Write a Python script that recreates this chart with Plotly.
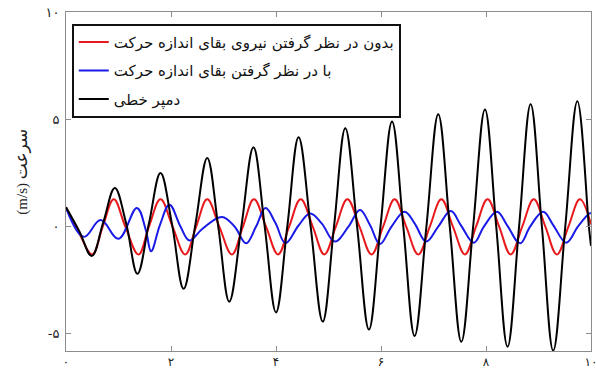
import plotly.graph_objects as go

# ---- data (time in s, velocity in m/s) ----
red_t = [0.00, 0.25, 0.50, 0.70, 0.91, 1.13, 1.38, 1.58, 1.80, 2.03, 2.27, 2.48, 2.69, 2.92,
         3.16, 3.37, 3.58, 3.81, 4.04, 4.25, 4.47, 4.70, 4.92, 5.14, 5.36, 5.59, 5.82, 6.04,
         6.26, 6.48, 6.71, 6.93, 7.15, 7.37, 7.60, 7.81, 8.03, 8.25, 8.47, 8.69, 8.91, 9.13,
         9.35, 9.57, 9.79, 10.00]
red_v = [0.90, -0.30, -1.30, 0.00, 1.27, 0.00, -1.30, 0.00, 1.27, 0.00, -1.30, 0.00, 1.27, 0.00,
         -1.30, 0.00, 1.27, 0.00, -1.30, 0.00, 1.27, 0.00, -1.30, 0.00, 1.27, 0.00, -1.30, 0.00,
         1.27, 0.00, -1.30, 0.00, 1.27, 0.00, -1.30, 0.00, 1.27, 0.00, -1.30, 0.00, 1.27, 0.00,
         -1.30, 0.00, 1.27, 0.10]

blue_t = [0.00, 0.34, 0.66, 1.00, 1.35, 1.52, 1.62, 1.79, 1.97, 2.18, 2.35, 2.60, 2.97, 3.21,
          3.43, 3.62, 3.80, 3.99, 4.18, 4.43, 4.65, 4.87, 5.12, 5.38, 5.60, 5.79, 5.98, 6.20,
          6.45, 6.64, 6.86, 7.09, 7.33, 7.52, 7.77, 7.96, 8.21, 8.40, 8.65, 8.84, 9.09, 9.28,
          9.53, 9.75, 9.97, 10.00]
blue_v = [0.88, -0.48, 0.30, -0.57, 0.87, -0.16, -1.15, 0.08, 1.02, 0.00, -0.65, -0.10, 0.45, 0.00,
          -0.78, 0.00, 0.86, 0.16, -0.77, 0.05, 0.61, 0.15, -0.70, 0.00, 0.77, 0.07, -0.81, 0.00,
          0.69, 0.15, -0.70, 0.00, 0.72, 0.07, -0.75, 0.00, 0.69, 0.07, -0.78, 0.00, 0.69, 0.07,
          -0.75, 0.00, 0.61, 0.62]

black_t = [0.00, 0.25, 0.49, 0.71, 0.93, 1.145, 1.36, 1.58, 1.80, 2.02, 2.24, 2.465, 2.69, 2.90,
           3.11, 3.34, 3.57, 3.785, 4.00, 4.215, 4.43, 4.66, 4.89, 5.105, 5.32, 5.545, 5.77, 5.99,
           6.21, 6.425, 6.64, 6.865, 7.09, 7.31, 7.53, 7.755, 7.98, 8.195, 8.41, 8.63, 8.85, 9.065,
           9.28, 9.51, 9.74, 9.96, 10.00]
black_v = [0.90, -0.20, -1.37, 0.20, 1.80, 0.15, -2.20, 0.15, 2.50, 0.10, -2.90, 0.10, 3.20, 0.00,
           -3.50, 0.00, 3.70, 0.00, -4.00, 0.00, 4.16, 0.00, -4.43, 0.00, 4.58, 0.00, -4.80, 0.00,
           4.90, 0.00, -5.10, 0.00, 5.23, 0.00, -5.37, 0.00, 5.46, 0.00, -5.60, 0.00, 5.70, 0.00,
           -5.78, 0.00, 5.84, 0.00, -0.90]

series_names = ["بدون در نظر گرفتن نیروی بقای اندازه حرکت",
                "با در نظر گرفتن بقای اندازه حرکت",
                "دمپر خطی"]
series_colors = ["#e8191c", "#1a1ae8", "#000000"]

x_tick_vals = [0, 2, 4, 6, 8, 10]
x_tick_text = ["۰", "۲", "۴", "۶", "۸", "۱۰"]
y_tick_vals = [-5, 0, 5, 10]
y_tick_text = ["-۵", "۰", "۵", "۱۰"]
y_title = "(m/s) <span style='font-size:17px'>سرعت</span>"

fig = go.Figure()
for i, (t, v) in enumerate([(red_t, red_v), (blue_t, blue_v), (black_t, black_v)]):
    fig.add_trace(go.Scatter(
        x=t, y=v, mode="lines", name=series_names[i], legendgroup=str(i),
        line=dict(color=series_colors[i], width=2, shape="spline", smoothing=1.1),
    ))

axis_common = dict(
    showline=True, linecolor="#8c8c8c", linewidth=1, mirror="ticks",
    ticks="inside", ticklen=5, tickcolor="#8c8c8c", showgrid=False, zeroline=False,
    automargin=False, ticklabeloverflow="allow",
)
fig.update_xaxes(range=[0, 10], tickvals=x_tick_vals, ticktext=x_tick_text,
                 tickfont=dict(family="DejaVu Sans", size=12, color="#222"), **axis_common)
fig.update_yaxes(range=[-5.8, 10], tickvals=y_tick_vals, ticktext=y_tick_text,
                 ticklabelstandoff=3,
                 tickfont=dict(family="DejaVu Sans", size=13, color="#222"), **axis_common)

fig.add_annotation(
    text=y_title, xref="paper", yref="paper", x=-0.085, y=0.53,
    xanchor="center", yanchor="middle", textangle=-90, showarrow=False,
    font=dict(family="Liberation Serif, DejaVu Sans", size=15, color="#222"),
)

fig.update_layout(
    width=596, height=371,
    margin=dict(l=66, r=5, t=12, b=20),
    paper_bgcolor="white", plot_bgcolor="white",
    showlegend=True,
    legend=dict(
        x=0.011, y=0.965, xanchor="left", yanchor="top",
        bgcolor="white", bordercolor="#111", borderwidth=2,
        font=dict(family="DejaVu Sans", size=15, color="#111"),
        itemwidth=30, tracegroupgap=6,
    ),
)

fig.write_html("out.html", config={"displayModeBar": False},
               post_script="document.body.style.margin='0';")
